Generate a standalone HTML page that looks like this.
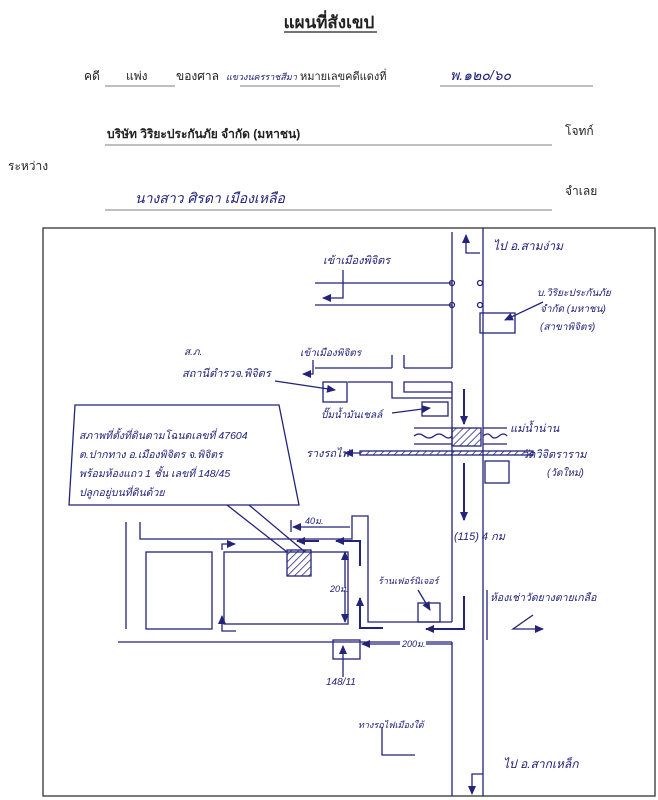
<!DOCTYPE html>
<html><head><meta charset="utf-8"><style>
html,body{margin:0;padding:0;background:#fff;}
svg{display:block;}
.p{font-family:"Liberation Sans","DejaVu Sans",sans-serif;fill:#222;}
.h{font-family:"Liberation Sans","DejaVu Sans",sans-serif;fill:#23237a;font-style:italic;}
</style></head><body>
<svg width="658" height="800" viewBox="0 0 658 800" xmlns="http://www.w3.org/2000/svg">
<defs>
<marker id="a" markerUnits="userSpaceOnUse" markerWidth="9" markerHeight="8" refX="8" refY="4" orient="auto"><path d="M0,0 L9,4 L0,8 z" fill="#23237a"/></marker>
<pattern id="hat" width="5" height="5" patternUnits="userSpaceOnUse" patternTransform="rotate(45)"><line x1="0" y1="0" x2="0" y2="5" stroke="#23237a" stroke-width="1.5"/></pattern>
</defs>
<text x="329" y="28" text-anchor="middle" class="p" font-size="17" font-weight="bold">แผนที่สังเขป</text>
<line x1="284" y1="32" x2="377" y2="32" stroke="#222" stroke-width="1.2"/>
<text x="84" y="80" class="p" font-size="12">คดี</text>
<text x="126" y="80" class="p" font-size="12">แพ่ง</text>
<line x1="105" y1="86" x2="175" y2="86" stroke="#555" stroke-width="0.8"/>
<text x="176" y="80" class="p" font-size="12">ของศาล</text>
<text x="226" y="80" class="h" font-size="9">แขวงนครราชสีมา</text>
<line x1="240" y1="86" x2="340" y2="86" stroke="#555" stroke-width="0.8"/>
<text x="300" y="80" class="p" font-size="11">หมายเลขคดีแดงที่</text>
<text x="450" y="80" class="h" font-size="14">พ.๑๒๐/๖๐</text>
<line x1="440" y1="86" x2="593" y2="86" stroke="#555" stroke-width="0.8"/>
<text x="107" y="138" class="p" font-size="12" font-weight="bold">บริษัท วิริยะประกันภัย จำกัด (มหาชน)</text>
<line x1="105" y1="145" x2="552" y2="145" stroke="#555" stroke-width="0.8"/>
<text x="565" y="135" class="p" font-size="12">โจทก์</text>
<text x="8" y="170" class="p" font-size="12">ระหว่าง</text>
<text x="135" y="203" class="h" font-size="14">นางสาว ศิรดา เมืองเหลือ</text>
<line x1="105" y1="210" x2="552" y2="210" stroke="#555" stroke-width="0.8"/>
<text x="565" y="195" class="p" font-size="12">จำเลย</text>

<g fill="none" stroke="#23237a" stroke-width="1.3">
<rect x="43" y="228" width="612" height="568" stroke="#333"/>
<line x1="483" y1="228" x2="483" y2="796"/>
<line x1="452" y1="232" x2="452" y2="368"/>
<line x1="452" y1="382" x2="452" y2="622"/>
<line x1="452" y1="642" x2="452" y2="796"/>
<line x1="315" y1="283" x2="452" y2="283"/>
<line x1="315" y1="305" x2="452" y2="305"/>
<circle cx="452" cy="283" r="2.5"/><circle cx="452" cy="305" r="2.5"/>
<circle cx="480" cy="283" r="2.5"/><circle cx="480" cy="305" r="2.5"/>
<polyline points="343,270 343,298 323,298" marker-end="url(#a)"/>
<rect x="480" y="313" width="35" height="20"/>
<line x1="543" y1="302" x2="505" y2="320" marker-end="url(#a)"/>
<line x1="315" y1="368" x2="392" y2="368"/>
<line x1="392" y1="355" x2="392" y2="368"/>
<line x1="404" y1="355" x2="404" y2="368"/>
<line x1="404" y1="368" x2="452" y2="368"/>
<polyline points="313,360 313,374 303,374" marker-end="url(#a)"/>
<polyline points="348,382 392,382 392,398 452,398"/>
<polyline points="452,382 404,382 404,392 452,392"/>
<rect x="323" y="382" width="24" height="20"/>
<line x1="275" y1="381" x2="335" y2="390" marker-end="url(#a)"/>
<rect x="422" y="402" width="26" height="14"/>
<line x1="392" y1="413" x2="430" y2="408" marker-end="url(#a)"/>
<line x1="464" y1="389" x2="464" y2="424" stroke-width="2" marker-end="url(#a)"/>
<rect x="452" y="428" width="29" height="18" fill="url(#hat)"/>
<path d="M414,428 H452 M414,436 q5,-4 10,0 t10,0 t10,0 t8,0 M414,444 H452 M483,428 H507 M483,436 q5,-4 8,0 t8,0 t8,0 M483,444 H507"/>
<rect x="360" y="451" width="173" height="4" fill="url(#hat)"/>
<line x1="360" y1="453" x2="345" y2="453" marker-end="url(#a)"/>
<rect x="485" y="461" width="24" height="22"/>
<line x1="464" y1="463" x2="464" y2="520" stroke-width="2" marker-end="url(#a)"/>
<polygon points="75,405 279,405 299,505 69,505"/>
<line x1="227" y1="505" x2="287" y2="552"/>
<line x1="249" y1="505" x2="305" y2="552"/>
<line x1="126" y1="522" x2="126" y2="629"/>
<polyline points="140,522 140,539 352,539 352,516 368,516 368,622 452,622"/>
<rect x="146" y="552" width="66" height="77"/>
<rect x="224" y="552" width="124" height="72"/>
<rect x="287" y="550" width="24" height="26" fill="url(#hat)"/>
<line x1="118" y1="642" x2="452" y2="642"/>
<line x1="291" y1="520" x2="291" y2="532"/>
<line x1="350" y1="527" x2="293" y2="527" marker-end="url(#a)"/>
<line x1="345" y1="588" x2="345" y2="552" marker-end="url(#a)"/>
<line x1="345" y1="590" x2="345" y2="622" marker-end="url(#a)"/>
<line x1="452" y1="644" x2="362" y2="644" marker-end="url(#a)"/>
<line x1="319" y1="541" x2="297" y2="541" stroke-width="2" marker-end="url(#a)"/>
<polyline points="360,566 360,541 336,541" stroke-width="2" marker-end="url(#a)"/>
<polyline points="383,628 360,628 360,598" stroke-width="2" marker-end="url(#a)"/>
<polyline points="222,550 222,544 235,544" marker-end="url(#a)"/>
<polyline points="236,631 222,631 222,616" marker-end="url(#a)"/>
<polyline points="464,596 464,629 426,629" stroke-width="2" marker-end="url(#a)"/>
<rect x="418" y="603" width="22" height="19"/>
<line x1="418" y1="590" x2="430" y2="610" marker-end="url(#a)"/>
<rect x="333" y="640" width="27" height="19"/>
<line x1="343" y1="677" x2="343" y2="646" marker-end="url(#a)"/>
<line x1="487" y1="590" x2="487" y2="640"/>
<polyline points="533,615 513,629 543,629" marker-end="url(#a)"/>
<polyline points="480,253 466,253 466,235" marker-end="url(#a)"/>
<polyline points="483,774 472,774 472,794" marker-end="url(#a)"/>
<polyline points="382,727 382,755 415,755"/>
</g>
<g class="h" font-size="11">
<text x="323" y="264">เข้าเมืองพิจิตร</text>
<text x="537" y="296" font-size="10">บ.วิริยะประกันภัย</text>
<text x="540" y="312" font-size="10">จำกัด (มหาชน)</text>
<text x="540" y="330" font-size="10">(สาขาพิจิตร)</text>
<text x="300" y="356" font-size="10">เข้าเมืองพิจิตร</text>
<text x="184" y="355" font-size="10">ส.ภ.</text>
<text x="182" y="377">สถานีตำรวจ.พิจิตร</text>
<text x="321" y="418" font-size="10">ปั๊มน้ำมันเชลล์</text>
<text x="510" y="432">แม่น้ำน่าน</text>
<text x="306" y="457">รางรถไฟ</text>
<text x="522" y="458">วัดวิจิตราราม</text>
<text x="547" y="476" font-size="10">(วัดใหม่)</text>
<text x="79" y="439" font-size="10.5">สภาพที่ตั้งที่ดินตามโฉนดเลขที่ 47604</text>
<text x="79" y="458" font-size="10.5">ต.ปากทาง อ.เมืองพิจิตร จ.พิจิตร</text>
<text x="79" y="477" font-size="10.5">พร้อมห้องแถว 1 ชั้น เลขที่ 148/45</text>
<text x="79" y="496" font-size="10.5">ปลูกอยู่บนที่ดินด้วย</text>
<text x="454" y="540">(115)  4 กม</text>
<text x="305" y="524" font-size="9">40ม.</text>
<text x="330" y="592" font-size="9">20ม.</text>
<rect x="400" y="638" width="26" height="11" fill="#fff"/>
<text x="402" y="647" font-size="9">200ม.</text>
<text x="378" y="584" font-size="9">ร้านเฟอร์นิเจอร์</text>
<text x="490" y="601" font-size="10.5">ห้องเช่าวัดยางตายเกลือ</text>
<text x="326" y="685" font-size="10">148/11</text>
<text x="358" y="728" font-size="9">ทางรถไฟเมืองใต้</text>
<text x="493" y="250" font-size="12">ไป อ.สามง่าม</text>
<text x="503" y="768" font-size="12">ไป อ.สากเหล็ก</text>
</g>
</svg>
</body></html>
